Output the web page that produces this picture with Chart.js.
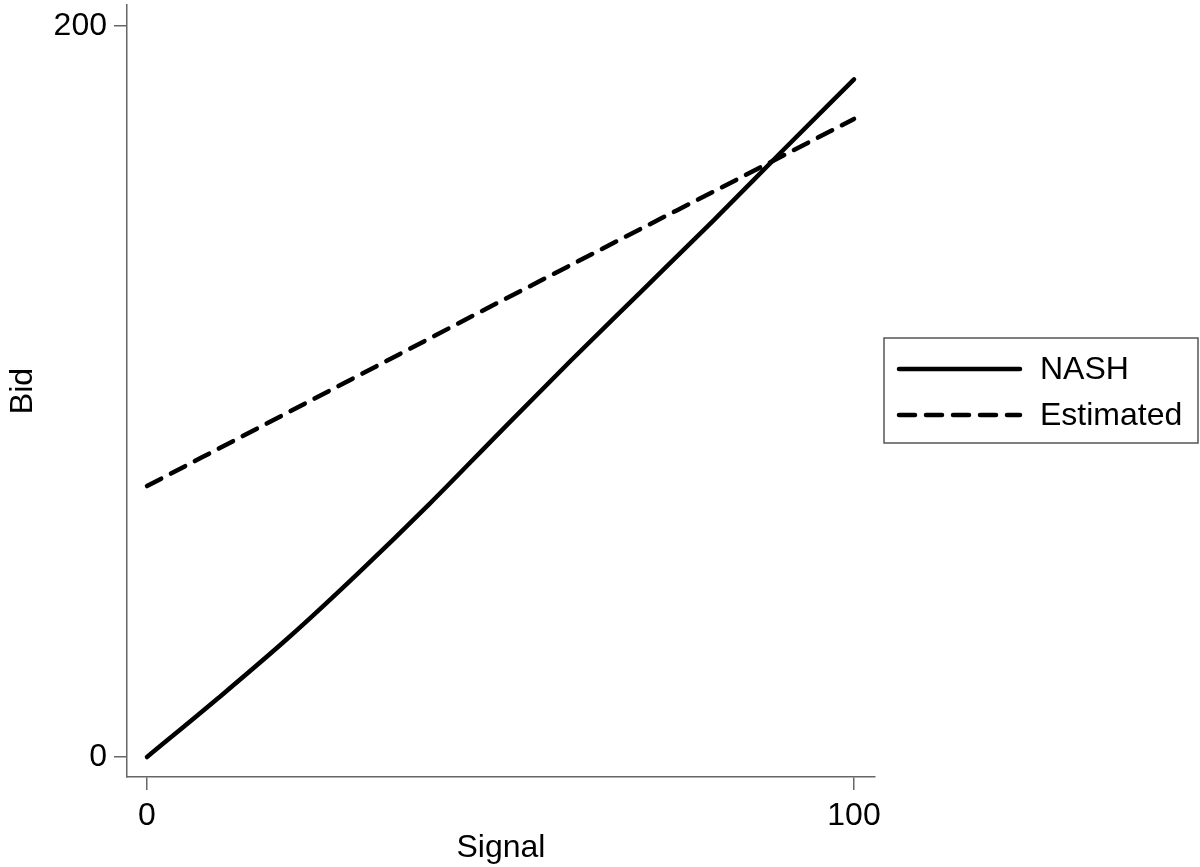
<!DOCTYPE html>
<html>
<head>
<meta charset="utf-8">
<style>
  html, body { margin: 0; padding: 0; background: #fff; }
  #wrap { width: 1200px; height: 867px; }
</style>
<script src="https://cdn.jsdelivr.net/npm/chart.js@4/dist/chart.umd.min.js"></script>
</head>
<body>
<div id="wrap"><canvas id="c" width="1200" height="867"></canvas></div>
<script>
// ---- data ----
const signal    = [0, 10, 20, 30, 40, 50, 60, 70, 80, 90, 100];
const nash      = [0, 16.0, 32.6, 50.5, 69.3, 89.0, 108.5, 127.5, 146.5, 166.0, 185.3];
const estimated = [74.1, 84.2, 94.3, 104.4, 114.5, 124.6, 134.6, 144.6, 154.5, 164.5, 174.5];
const seriesLabels = ['NASH', 'Estimated'];
const xTicks = [0, 100];
const yTicks = [0, 200];
const xTitle = 'Signal';
const yTitle = 'Bid';

const FONT = '"Liberation Sans", Arial, Helvetica, sans-serif';
const FS = 32;
const AXIS = '#666666';
const INK = '#000000';

function pts(xs, ys) { return xs.map((x, i) => ({ x: x, y: ys[i] })); }

const legendPlugin = {
  id: 'boxLegend',
  afterDraw(chart) {
    const ctx = chart.ctx;
    const ds = chart.data.datasets;
    const bx = 884, by = 338, bw = 314, bh = 105;
    ctx.save();
    ctx.strokeStyle = '#555';
    ctx.lineWidth = 1.5;
    ctx.strokeRect(bx, by, bw, bh);
    const rows = [369, 415];
    ds.forEach((d, i) => {
      const y = rows[i];
      ctx.beginPath();
      ctx.strokeStyle = d.borderColor;
      ctx.lineWidth = d.borderWidth;
      ctx.lineCap = 'round';
      ctx.setLineDash(d.borderDash || []);
      ctx.moveTo(899, y);
      ctx.lineTo(1020, y);
      ctx.stroke();
      ctx.setLineDash([]);
      ctx.fillStyle = INK;
      ctx.font = FS + 'px ' + FONT;
      ctx.textAlign = 'left';
      ctx.textBaseline = 'middle';
      ctx.fillText(d.label, 1040, y + 1);
    });
    ctx.restore();
  }
};

new Chart(document.getElementById('c'), {
  type: 'line',
  data: {
    datasets: [
      {
        label: seriesLabels[0],
        data: pts(signal, nash),
        borderColor: '#000',
        borderWidth: 4.5,
        pointRadius: 0,
        cubicInterpolationMode: 'monotone',
        borderCapStyle: 'round',
        fill: false
      },
      {
        label: seriesLabels[1],
        data: pts(signal, estimated),
        borderColor: '#000',
        borderWidth: 4.5,
        borderDash: [16, 11],
        borderCapStyle: 'round',
        pointRadius: 0,
        cubicInterpolationMode: 'monotone',
        fill: false
      }
    ]
  },
  options: {
    responsive: false,
    animation: false,
    devicePixelRatio: 1,
    layout: { padding: { left: 0, right: 325, top: 5, bottom: 0 } },
    plugins: {
      legend: { display: false },
      tooltip: { enabled: false }
    },
    scales: {
      x: {
        type: 'linear',
        min: -2.83,
        max: 102.97,
        afterBuildTicks(s) { s.ticks = xTicks.map(v => ({ value: v })); },
        afterFit(s) { s.height = 90; s.paddingLeft = 0; s.paddingRight = 0; },
        grid: { drawOnChartArea: false, drawTicks: true, tickLength: 13, color: AXIS, lineWidth: 1.5 },
        border: { display: true, color: AXIS, width: 1.5 },
        ticks: { color: INK, font: { family: FONT, size: FS }, padding: 7, maxRotation: 0, autoSkip: false },
        title: { display: true, text: xTitle, color: INK, font: { family: FONT, size: FS }, padding: { top: 0, bottom: 0 } }
      },
      y: {
        type: 'linear',
        min: -5.47,
        max: 205.66,
        afterBuildTicks(s) { s.ticks = yTicks.map(v => ({ value: v })); },
        afterFit(s) { s.width = 127; s.paddingTop = 0; s.paddingBottom = 0; },
        grid: { drawOnChartArea: false, drawTicks: true, tickLength: 13, color: AXIS, lineWidth: 1.5 },
        border: { display: true, color: AXIS, width: 1.5 },
        ticks: { color: INK, font: { family: FONT, size: FS }, padding: 7, autoSkip: false },
        title: { display: true, text: yTitle, color: INK, font: { family: FONT, size: FS }, padding: { top: 4, bottom: 0 } }
      }
    }
  },
  plugins: [legendPlugin]
});
</script>
</body>
</html>
